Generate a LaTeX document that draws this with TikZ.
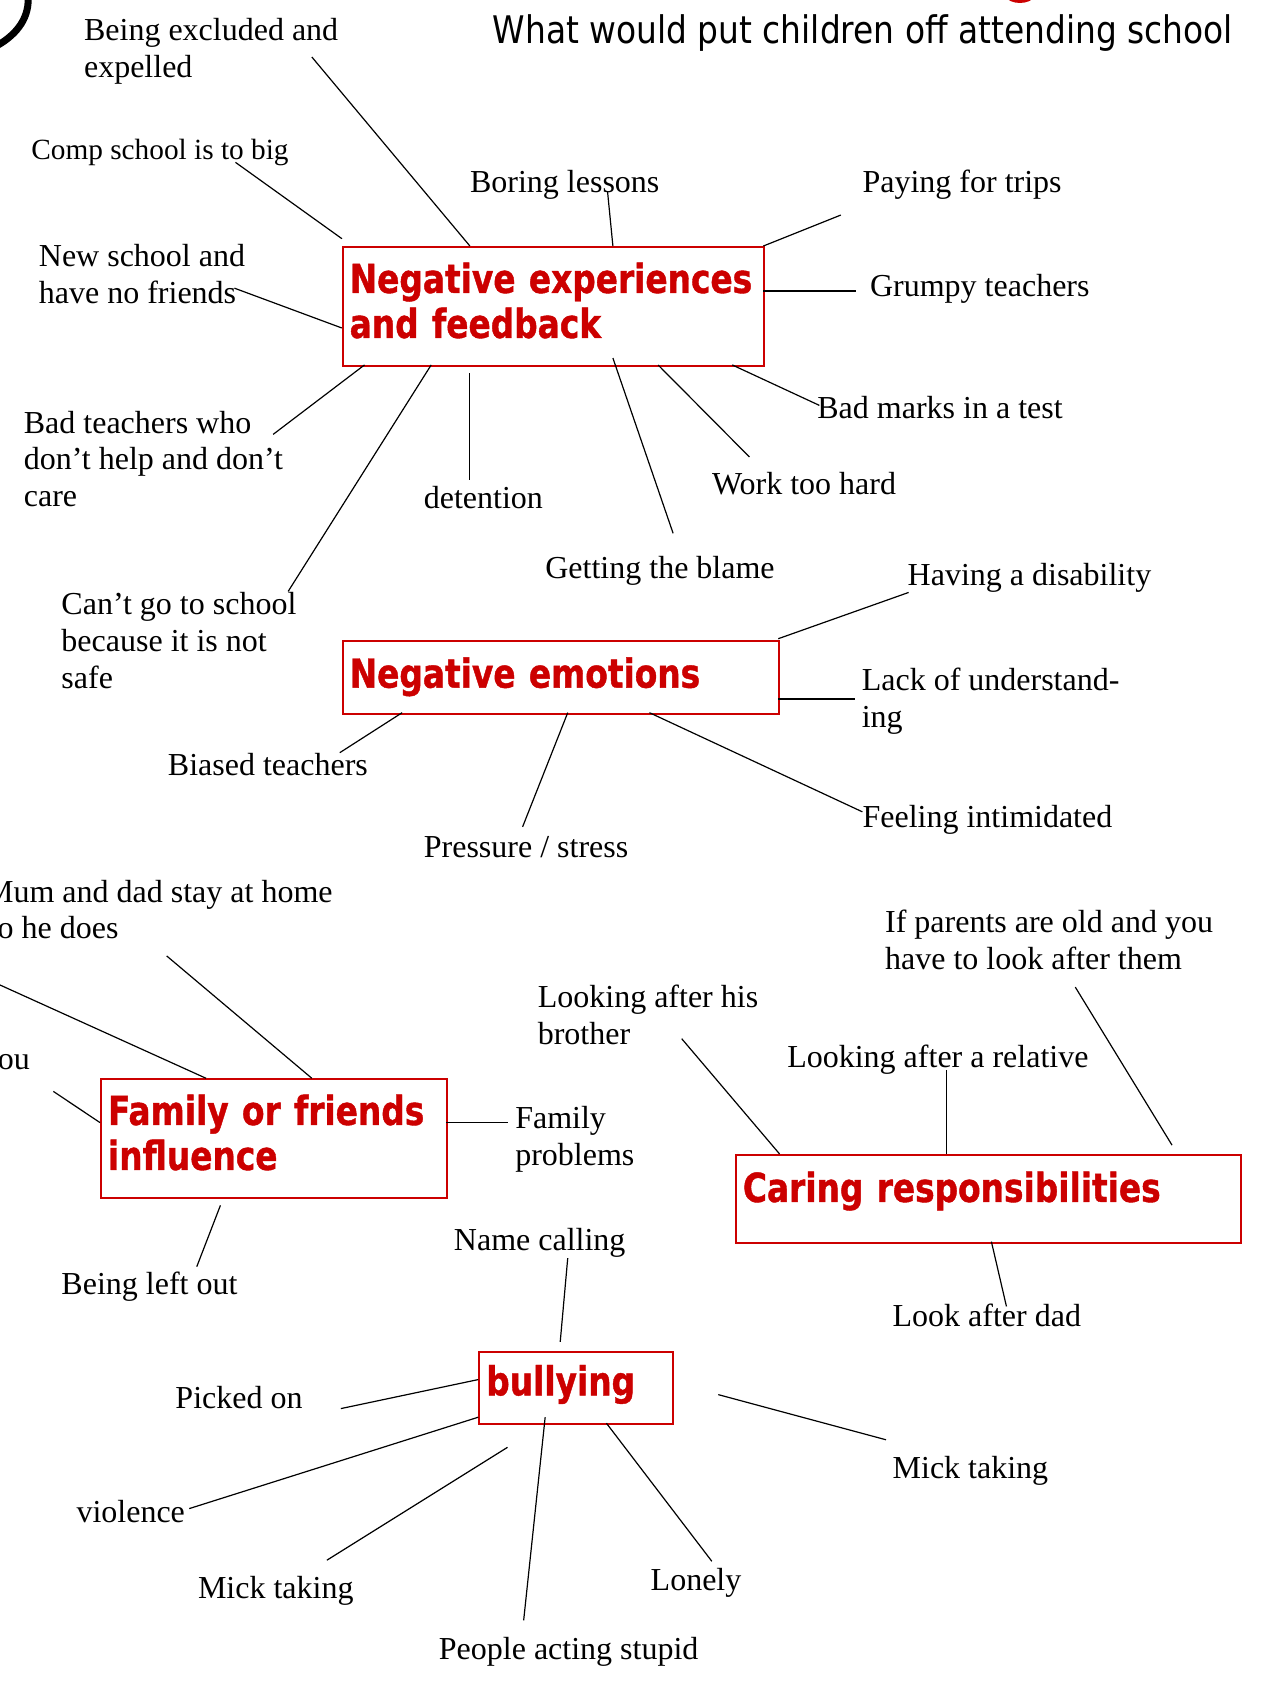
\documentclass[tikz,border=0pt]{standalone}
\usepackage{fontspec}
\setmainfont{Liberation Serif}
\newfontfamily\boxfont{DejaVu Sans}[FakeStretch=0.82, FakeBold=1]
\newfontfamily\titlefont{DejaVu Sans}[FakeStretch=0.865]
\definecolor{boxred}{HTML}{CC0000}
\newcommand{\lblfont}{\fontsize{32pt}{36.8pt}\selectfont}
\newcommand{\smlblfont}{\fontsize{29.3pt}{33.7pt}\selectfont}
\tikzset{
  lbl/.style={anchor=north west, inner sep=0pt, align=left, font=\lblfont, yshift=25.76pt, execute at begin node=\strut},
  lblr/.style={lbl, anchor=north east},
  boxbase/.style={draw=boxred, line width=2pt, inner xsep=7pt, inner ysep=0pt,
    font=\boxfont\bfseries\fontsize{40pt}{45pt}\selectfont, text=boxred, align=left, anchor=north west},
  boxtwo/.style={boxbase, execute at begin node=\strut, execute at end node=\strut},
  conn/.style={draw=black, line width=1.2pt}
}
\begin{document}
\begin{tikzpicture}[x=1.0753pt, y=-1.0753pt]
\useasboundingbox (0,0) rectangle (1182,1568);
\clip (0,0) rectangle (1182,1568);
\fill[white] (0,0) rectangle (1182,1568);

% decorations at the top edge
\draw[line width=7pt, line cap=round] (-2,42) .. controls (17,31) and (28,15) .. (26,-5);
\fill[boxred] (934.6,-4) .. controls (938,5) and (959,5) .. (962.5,-4) -- cycle;

% title
\node[anchor=base west, inner sep=0pt, font=\titlefont\fontsize{38pt}{44pt}\selectfont] (title) at (458,40) {What would put children off attending school};

% boxes
\node[boxtwo, text width=407.6pt, minimum height=118.9pt] (A) at (317.8,228.8) {Negative experiences\\and feedback};
\node[boxbase, text width=422.6pt, text height=46.7pt, text depth=26.0pt] (B) at (317.8,595.2) {Negative emotions};
\node[boxtwo, text width=332.0pt, minimum height=118.4pt] (C) at (93,1002.8) {Family or friends\\influence};
\node[boxbase, text width=491.1pt, text height=47.0pt, text depth=40.6pt] (D) at (683.5,1073.2) {Caring responsibilities};
\node[boxbase, text width=180.0pt, text height=43.7pt, text depth=28.9pt] (E) at (444.8,1256.1) {bullying};

% labels
\node[lbl] (l1) at (78,41) {Being excluded and\\expelled};
\node[lbl, font=\smlblfont, yshift=-2.2pt] (l2) at (29,148.5) {Comp school is to big};
\node[lbl] (l3) at (36,251) {New school and\\have no friends};
\node[lbl] (l4) at (437,178.5) {Boring lessons};
\node[lbl] (l5) at (802,179) {Paying for trips};
\node[lbl] (l6) at (809,276) {Grumpy teachers};
\node[lbl] (l7) at (760,389) {Bad marks in a test};
\node[lbl] (l8) at (662,460) {Work too hard};
\node[lbl] (l9) at (394,473) {detention};
\node[lbl] (l10) at (507,538) {Getting the blame};
\node[lbl] (l11) at (22,406) {Bad teachers who\\don’t help and don’t\\care};
\node[lbl] (l12) at (57,575) {Can’t go to school\\because it is not\\safe};
\node[lbl] (l13) at (844,544) {Having a disability};
\node[lbl] (l14) at (801.3,645.3) {Lack of understand-\\ing};
\node[lbl] (l15) at (156,721) {Biased teachers};
\node[lbl] (l16) at (394,797) {Pressure / stress};
\node[lbl] (l17) at (802,769) {Feeling intimidated};
\node[lbl] (l18) at (-14,842) {Mum and dad stay at home\\so he does};
\node[lblr] (l19) at (28,994) {you};
\node[lbl] (l20) at (479,1053) {Family\\problems};
\node[lbl] (l21) at (57,1204) {Being left out};
\node[lbl] (l22) at (500,940) {Looking after his\\brother};
\node[lbl] (l23) at (732,993) {Looking after a relative};
\node[lbl] (l24) at (823,870) {If parents are old and you\\have to look after them};
\node[lbl] (l25) at (830,1233) {Look after dad};
\node[lbl] (l26) at (422,1163) {Name calling};
\node[lbl] (l27) at (163,1310) {Picked on};
\node[lbl] (l28) at (830,1375) {Mick taking};
\node[lbl] (l29) at (71,1416) {violence};
\node[lbl] (l30) at (184,1486.5) {Mick taking};
\node[lbl] (l31) at (408,1543) {People acting stupid};
\node[lbl] (l32) at (605,1479) {Lonely};

% connector end points
\coordinate (c1a) at (290,53);   \coordinate (c1b) at (437,228.8);
\coordinate (c2a) at (219,151);  \coordinate (c2b) at (318,222);
\coordinate (c3a) at (218,268);  \coordinate (c3b) at (317.8,305);
\coordinate (c4a) at (565,178);  \coordinate (c4b) at (570,228.8);
\coordinate (c5a) at (782,200);  \coordinate (c5b) at (709.9,228.8);
\coordinate (c6a) at (796,270.6);  \coordinate (c6b) at (709.9,270.6);
\coordinate (c7a) at (762,377);  \coordinate (c7b) at (681,339.4);
\coordinate (c8a) at (697,425);  \coordinate (c8b) at (612,339.4);
\coordinate (c9a) at (626,496);  \coordinate (c9b) at (570,333);
\coordinate (c10a) at (437,446); \coordinate (c10b) at (437,347);
\coordinate (c11a) at (268,550); \coordinate (c11b) at (401,339.4);
\coordinate (c12a) at (254,404); \coordinate (c12b) at (339,339.4);

\coordinate (d1a) at (845,551);  \coordinate (d1b) at (723.8,594);
\coordinate (d2a) at (795,650);  \coordinate (d2b) at (723.8,650);
\coordinate (d3a) at (802,755);  \coordinate (d3b) at (604,662.8);
\coordinate (d4a) at (486,769);  \coordinate (d4b) at (528,662.8);
\coordinate (d5a) at (316,700);  \coordinate (d5b) at (374,662.8);

\coordinate (e1a) at (-20,907);  \coordinate (e1b) at (191.6,1002.8);
\coordinate (e2a) at (155,889);  \coordinate (e2b) at (290,1002.8);
\coordinate (e3a) at (49.6,1015); \coordinate (e3b) at (93,1044);
\coordinate (e4a) at (472,1043.7); \coordinate (e4b) at (414.8,1043.7);
\coordinate (e5a) at (183,1178); \coordinate (e5b) at (205,1121);

\coordinate (f1a) at (634,966);  \coordinate (f1b) at (725,1073.2);
\coordinate (f2a) at (880,995);  \coordinate (f2b) at (880,1073.2);
\coordinate (f3a) at (1000,918); \coordinate (f3b) at (1090,1065);
\coordinate (f4a) at (936,1215); \coordinate (f4b) at (922,1154.7);

\coordinate (g1a) at (528,1170); \coordinate (g1b) at (521,1248);
\coordinate (g2a) at (317,1310); \coordinate (g2b) at (444.8,1283);
\coordinate (g3a) at (824,1339); \coordinate (g3b) at (668,1297);
\coordinate (g4a) at (176,1403); \coordinate (g4b) at (444.8,1318);
\coordinate (g5a) at (304,1451); \coordinate (g5b) at (472,1346);
\coordinate (g6a) at (487,1507); \coordinate (g6b) at (507,1318);
\coordinate (g7a) at (662,1452); \coordinate (g7b) at (564,1323.6);

\foreach \p in {c1,c2,c3,c4,c5,c6,c7,c8,c9,c10,c11,c12,d1,d2,d3,d4,d5,e1,e2,e3,e4,e5,f1,f2,f3,f4,g1,g2,g3,g4,g5,g6,g7}
  \draw[conn] (\p a) -- (\p b);
\end{tikzpicture}
\end{document}
